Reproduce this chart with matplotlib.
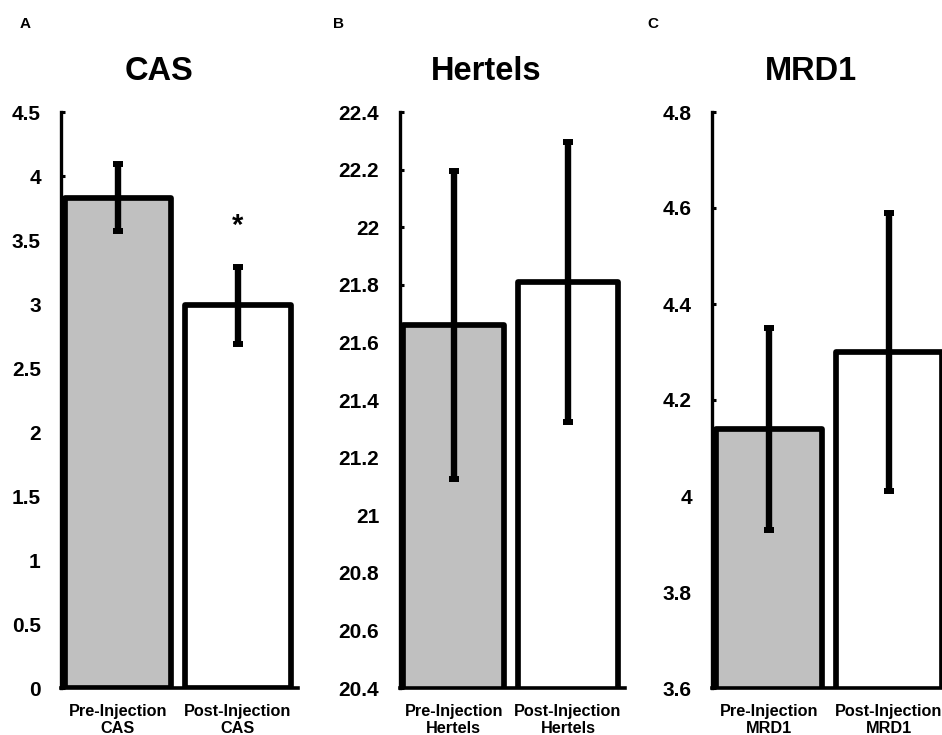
import numpy as np
import matplotlib
matplotlib.use("Agg")
import matplotlib.pyplot as plt
from matplotlib.ticker import FuncFormatter

plt.rcParams['font.family'] = ['Liberation Sans', 'DejaVu Sans']
plt.rcParams['font.weight'] = 'bold'

# data
groups = ["Pre-Injection", "Post-Injection"]

cas_mean = [3.83, 2.99]
cas_err = [0.26, 0.30]

hertels_mean = [21.66, 21.81]
hertels_err = [0.535, 0.485]

mrd1_mean = [4.14, 4.30]
mrd1_err = [0.21, 0.29]

bar_colors = ["#C0C0C0", "#FFFFFF"]


def panel(fig, rect, title, title_x, letter, letter_x, means, errs, ylim, ystep, measure):
    ax = fig.add_axes(rect)
    x = np.arange(len(means))
    ax.bar(x, means, width=0.88, color=bar_colors, edgecolor="black",
           linewidth=4.1, joinstyle="round", zorder=2)
    ax.errorbar(x, means, yerr=errs, fmt="none", ecolor="black",
                elinewidth=4.6, capsize=3.3, capthick=4.3, zorder=3)
    ax.set_xlim(-0.475, 1.5)
    ax.set_ylim(*ylim)
    ticks = np.arange(ylim[0], ylim[1] + ystep / 2, ystep)
    ax.set_yticks(ticks)
    ax.yaxis.set_major_formatter(FuncFormatter(lambda v, p: "{:g}".format(round(v, 2))))
    ax.set_xticks(x)
    ax.set_xticklabels([g + "\n" + measure for g in groups], fontsize=11.7,
                       fontweight="bold", linespacing=1.2)
    ax.tick_params(axis="x", length=0, pad=11.5)
    ax.tick_params(axis="y", direction="in", length=3, width=2.2, pad=14.5,
                   labelsize=15)
    for s in ["top", "right"]:
        ax.spines[s].set_visible(False)
    ax.spines["left"].set_linewidth(2.4)
    ax.spines["bottom"].set_linewidth(2.6)
    ax.spines["left"].set_zorder(4)
    fig.text(title_x, 0.891, title, ha="center", va="baseline",
             fontsize=23.5, fontweight="bold")
    fig.text(letter_x, 0.962, letter, ha="left", va="baseline",
             fontsize=11, fontweight="bold")
    return ax


fig = plt.figure(figsize=(9.42, 7.35), dpi=100)
fig.patch.set_facecolor("white")

bottom = 47 / 735
height = 576 / 735

axA = panel(fig, [61 / 942, bottom, 237 / 942, height], "CAS", 159 / 942, "A", 20 / 942,
            cas_mean, cas_err, (0, 4.5), 0.5, "CAS")
axA.text(1, cas_mean[1] + cas_err[1] + 0.26, "*", ha="center", va="baseline",
         fontsize=21, fontweight="bold")

panel(fig, [399.5 / 942, bottom, 225.5 / 942, height], "Hertels", 486 / 942, "B", 333 / 942,
      hertels_mean, hertels_err, (20.4, 22.4), 0.2, "Hertels")

panel(fig, [712 / 942, bottom, 237 / 942, height], "MRD1", 811 / 942, "C", 647 / 942,
      mrd1_mean, mrd1_err, (3.6, 4.8), 0.2, "MRD1")

fig.savefig("out.png", dpi=100)
